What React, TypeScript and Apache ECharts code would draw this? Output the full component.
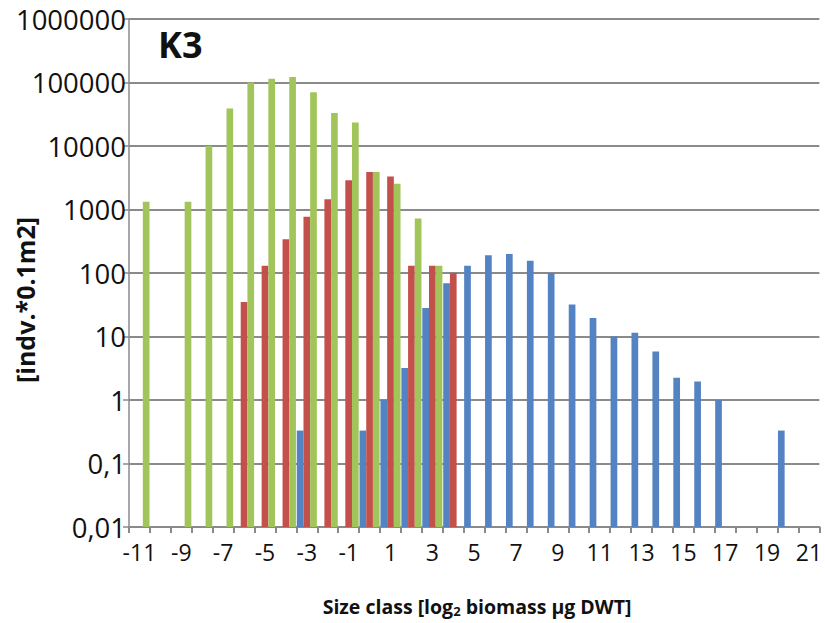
import React, { useEffect, useRef } from "react";
import * as echarts from "echarts";

const categories = ["-11","-10","-9","-8","-7","-6","-5","-4","-3","-2","-1","0","1","2","3","4","5","6","7","8","9","10","11","12","13","14","15","16","17","18","19","20","21"];

// blue series
const blueValues = [null,null,null,null,null,null,null,null,0.33,null,null,0.33,1.0,3.2,28,69,130,190,200,156,100,32,19.5,10,11.5,5.8,2.25,1.95,1.0,null,null,0.33,null];
// red series
const redValues = [null,null,null,null,null,35,130,340,770,1450,2900,3900,3300,130,130,100,null,null,null,null,null,null,null,null,null,null,null,null,null,null,null,null,null];
// green series
const greenValues = [1330,null,1330,10000,39000,100000,115000,122000,70000,33000,23500,3900,2550,720,130,null,null,null,null,null,null,null,null,null,null,null,null,null,null,null,null,null,null];

const yTickLabels = ["0,01","0,1","1","10","100","1000","10000","100000","1000000"];

const FONT = "Open Sans";

export default function App() {
  const ref = useRef<HTMLDivElement>(null);
  useEffect(() => {
    document.body.style.margin = "0";
    const chart = echarts.init(ref.current!, null, { renderer: "svg" });
    const gridColor = "#8a8a8a";
    chart.setOption({
      animation: false,
      backgroundColor: "#ffffff",
      grid: { left: 129, right: 2, top: 19, bottom: 96, containLabel: false },
      xAxis: {
        type: "category",
        data: categories,
        axisLine: { lineStyle: { color: gridColor, width: 2 } },
        axisTick: { show: true, interval: 0, length: 6, lineStyle: { color: gridColor, width: 2 } },
        axisLabel: { interval: 1, fontFamily: FONT, fontSize: 23, color: "#111", margin: 13 },
        splitLine: { show: false },
      },
      yAxis: {
        type: "log",
        logBase: 10,
        min: 0.01,
        max: 1000000,
        startValue: 0.01,
        axisLine: { show: true, lineStyle: { color: gridColor, width: 1.5 } },
        axisTick: { show: true, length: 6, lineStyle: { color: gridColor, width: 1.5 } },
        axisLabel: {
          fontFamily: FONT,
          fontSize: 27.5,
          color: "#111",
          margin: 3,
          formatter: (v: number) => yTickLabels[Math.round(Math.log10(v)) + 2] ?? "",
        },
        splitLine: { show: true, lineStyle: { color: gridColor, width: 1.8 } },
        minorTick: { show: false },
      },
      series: [
        { name: "blue", type: "bar", data: blueValues, itemStyle: { color: "#5383c3" }, barGap: "0%", barCategoryGap: "4%" },
        { name: "red", type: "bar", data: redValues, itemStyle: { color: "#c4504b" }, barGap: "0%", barCategoryGap: "4%" },
        { name: "green", type: "bar", data: greenValues, itemStyle: { color: "#a2c55b" }, barGap: "0%", barCategoryGap: "4%" },
      ],
      graphic: [
        {
          type: "text",
          left: 158,
          top: 26,
          style: { text: "K3", fontFamily: FONT, fontWeight: "bold", fontSize: 36, fill: "#111" },
        },
        {
          type: "text",
          x: 25,
          y: 300,
          rotation: Math.PI / 2,
          style: {
            text: "[indv.*0.1m2]",
            fontFamily: FONT,
            fontWeight: "bold",
            fontSize: 25,
            fill: "#111",
            textAlign: "center",
            textVerticalAlign: "middle",
          },
        },
        {
          type: "text",
          x: 477,
          y: 606,
          style: {
            text: "{a|Size class [log}{s|2}{a| biomass µg DWT]}",
            textAlign: "center",
            textVerticalAlign: "middle",
            rich: {
              a: { fontFamily: FONT, fontWeight: "bold", fontSize: 19.5, fill: "#111", color: "#111" },
              s: { fontFamily: FONT, fontWeight: "bold", fontSize: 13, fill: "#111", color: "#111", padding: [9, 0, 0, 0] },
            },
          },
        },
      ],
    });
    return () => chart.dispose();
  }, []);
  return <div ref={ref} style={{ width: 825, height: 623 }} />;
}
